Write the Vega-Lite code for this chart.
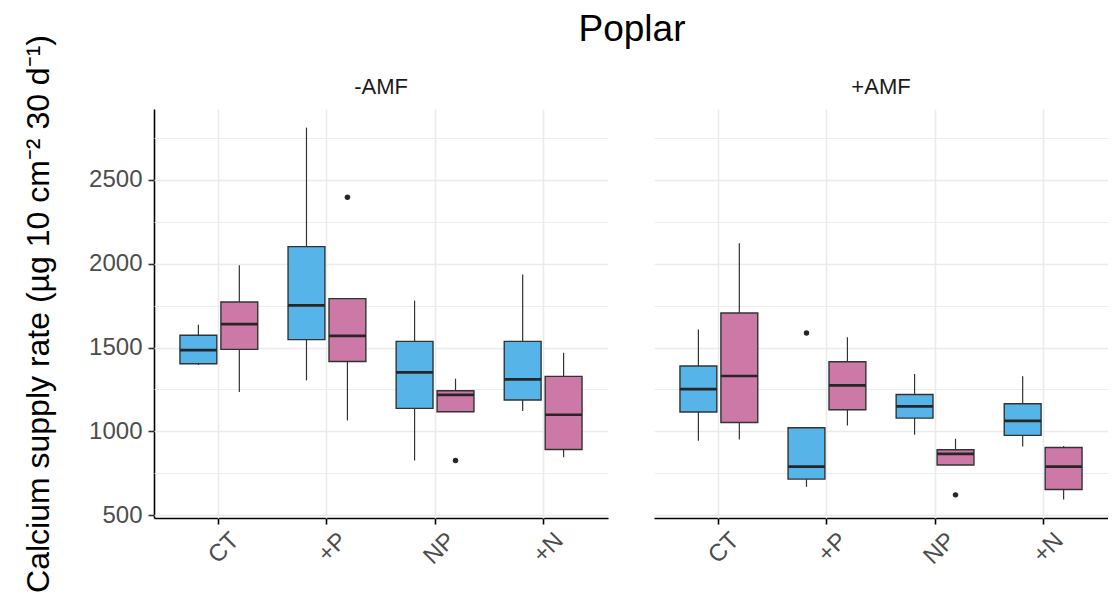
{
  "$schema": "https://vega.github.io/schema/vega-lite/v6.json",
  "padding": {"left": 22, "top": 10, "right": 0, "bottom": 0},
  "title": {"text": "Poplar", "fontSize": 37, "fontWeight": "normal", "font": "Liberation Sans", "color": "#000000", "anchor": "middle", "frame": "group", "dx": 478, "offset": -14},
  "data": {"values": [
    {"amf": "-AMF", "treatment": "CT", "group": "A", "lower": 1396, "q1": 1403, "median": 1485, "q3": 1573, "upper": 1636},
    {"amf": "-AMF", "treatment": "CT", "group": "B", "lower": 1234, "q1": 1489, "median": 1640, "q3": 1772, "upper": 1991},
    {"amf": "-AMF", "treatment": "+P", "group": "A", "lower": 1304, "q1": 1547, "median": 1752, "q3": 2102, "upper": 2812},
    {"amf": "-AMF", "treatment": "+P", "group": "B", "lower": 1065, "q1": 1417, "median": 1569, "q3": 1792, "upper": 1792},
    {"amf": "-AMF", "treatment": "NP", "group": "A", "lower": 826, "q1": 1137, "median": 1352, "q3": 1537, "upper": 1780},
    {"amf": "-AMF", "treatment": "NP", "group": "B", "lower": 1117, "q1": 1117, "median": 1218, "q3": 1242, "upper": 1314},
    {"amf": "-AMF", "treatment": "+N", "group": "A", "lower": 1121, "q1": 1187, "median": 1310, "q3": 1537, "upper": 1935},
    {"amf": "-AMF", "treatment": "+N", "group": "B", "lower": 846, "q1": 892, "median": 1099, "q3": 1328, "upper": 1469},
    {"amf": "+AMF", "treatment": "CT", "group": "A", "lower": 944, "q1": 1115, "median": 1252, "q3": 1390, "upper": 1608},
    {"amf": "+AMF", "treatment": "CT", "group": "B", "lower": 952, "q1": 1053, "median": 1330, "q3": 1706, "upper": 2122},
    {"amf": "+AMF", "treatment": "+P", "group": "A", "lower": 669, "q1": 715, "median": 789, "q3": 1021, "upper": 1021},
    {"amf": "+AMF", "treatment": "+P", "group": "B", "lower": 1035, "q1": 1129, "median": 1274, "q3": 1415, "upper": 1561},
    {"amf": "+AMF", "treatment": "NP", "group": "A", "lower": 980, "q1": 1079, "median": 1149, "q3": 1220, "upper": 1342},
    {"amf": "+AMF", "treatment": "NP", "group": "B", "lower": 799, "q1": 799, "median": 866, "q3": 890, "upper": 956},
    {"amf": "+AMF", "treatment": "+N", "group": "A", "lower": 910, "q1": 976, "median": 1063, "q3": 1165, "upper": 1328},
    {"amf": "+AMF", "treatment": "+N", "group": "B", "lower": 594, "q1": 653, "median": 789, "q3": 904, "upper": 912},
    {"amf": "-AMF", "treatment": "+P", "group": "B", "outlier": 2396},
    {"amf": "-AMF", "treatment": "NP", "group": "B", "outlier": 826},
    {"amf": "+AMF", "treatment": "+P", "group": "A", "outlier": 1587},
    {"amf": "+AMF", "treatment": "NP", "group": "B", "outlier": 621}
  ]},
  "facet": {
    "column": {
      "field": "amf", "type": "nominal", "sort": ["-AMF", "+AMF"], "title": null,
      "header": {"labelFontSize": 22, "labelFont": "Liberation Sans", "labelColor": "#1a1a1a", "labelPadding": 10}
    }
  },
  "spacing": 46,
  "spec": {
    "width": 454,
    "height": 409,
    "encoding": {
      "x": {
        "field": "treatment", "type": "nominal", "sort": ["CT", "+P", "NP", "+N"], "title": null,
        "scale": {"paddingInner": 0, "paddingOuter": 0.1},
        "axis": {"labelAngle": -45, "labelFontSize": 24, "labelColor": "#4d4d4d", "labelOffset": 8, "grid": true, "gridColor": "#ebebeb", "gridWidth": 1.6, "bandPosition": 0.5, "domainColor": "#000000", "domainWidth": 1.6, "tickColor": "#000000", "tickWidth": 1.6, "tickSize": 6, "labelPadding": 4}
      },
      "xOffset": {"field": "group", "type": "nominal", "scale": {"paddingInner": 0.1, "paddingOuter": 0.37}}
    },
    "layer": [
      {
        "transform": [{"filter": "datum.median != null"}],
        "mark": {"type": "rule", "color": "#333333", "strokeWidth": 1.2},
        "encoding": {
          "y": {"field": "lower", "type": "quantitative", "scale": {"domain": [483, 2923], "nice": false, "zero": false},
            "axis": {"title": "Calcium supply rate (µg 10 cm⁻² 30 d⁻¹)", "values": [500, 750, 1000, 1250, 1500, 1750, 2000, 2250, 2500, 2750], "format": "d", "labelExpr": "datum.value % 500 === 0 ? datum.label : ''", "tickOpacity": {"condition": {"test": "datum.value % 500 === 0", "value": 1}, "value": 0}, "gridWidth": {"condition": {"test": "datum.value % 500 === 0", "value": 1.6}, "value": 0.9}, "gridColor": "#ebebeb", "domainColor": "#000000", "domainWidth": 1.6, "tickColor": "#333333", "tickWidth": 1.6, "tickSize": 6, "labelFontSize": 24, "labelColor": "#4d4d4d", "labelPadding": 6, "titleFontSize": 32, "titleFontWeight": "normal", "titleColor": "#000000", "titlePadding": 33}},
          "y2": {"field": "upper"}
        }
      },
      {
        "transform": [{"filter": "datum.median != null"}],
        "mark": {"type": "bar", "stroke": "#333333", "strokeWidth": 1.4, "opacity": 1},
        "encoding": {
          "y": {"field": "q1", "type": "quantitative", "scale": {"domain": [483, 2923], "nice": false, "zero": false}, "axis": {"title": "Calcium supply rate (µg 10 cm⁻² 30 d⁻¹)"}},
          "y2": {"field": "q3"},
          "color": {"field": "group", "type": "nominal", "scale": {"domain": ["A", "B"], "range": ["#56B4E9", "#CC79A7"]}, "legend": null}
        }
      },
      {
        "transform": [{"filter": "datum.median != null"}],
        "mark": {"type": "tick", "size": 37, "thickness": 2.7, "color": "#262626", "opacity": 1},
        "encoding": {
          "y": {"field": "median", "type": "quantitative", "scale": {"domain": [483, 2923], "nice": false, "zero": false}, "axis": {"title": "Calcium supply rate (µg 10 cm⁻² 30 d⁻¹)"}}
        }
      },
      {
        "transform": [{"filter": "datum.outlier != null"}],
        "mark": {"type": "circle", "size": 30, "color": "#262626", "opacity": 1},
        "encoding": {
          "y": {"field": "outlier", "type": "quantitative", "scale": {"domain": [483, 2923], "nice": false, "zero": false}, "axis": {"title": "Calcium supply rate (µg 10 cm⁻² 30 d⁻¹)"}}
        }
      }
    ]
  },
  "config": {
    "font": "Liberation Sans",
    "view": {"stroke": null},
    "axis": {"labelFont": "Liberation Sans", "titleFont": "Liberation Sans"}
  }
}
